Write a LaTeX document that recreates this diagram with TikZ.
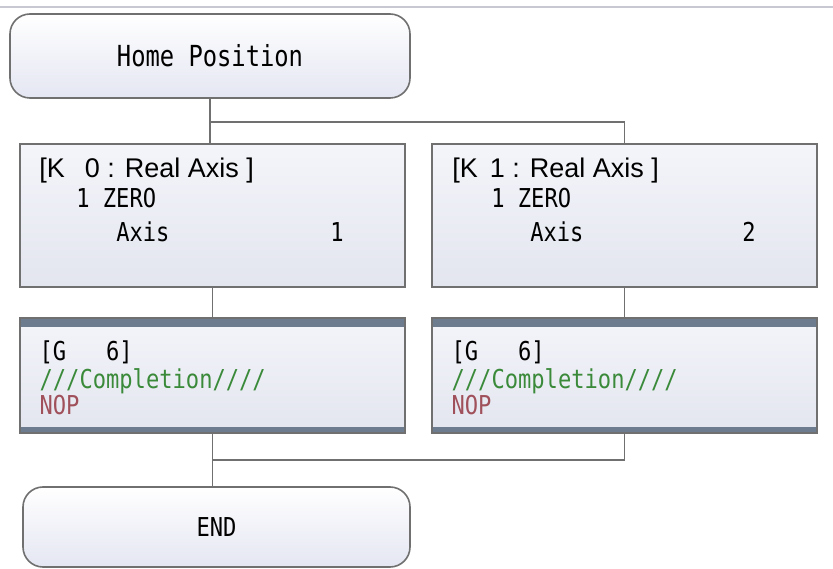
\documentclass[tikz,border=0pt]{standalone}
\usepackage{fontspec}
\setmainfont{Liberation Sans}
\newfontfamily\plcmono[FakeStretch=0.85]{DejaVu Sans Mono}
\newfontfamily\plchead[FakeStretch=0.82]{DejaVu Sans Mono}
\definecolor{edge}{HTML}{707070}
\definecolor{termbot}{HTML}{E4E6F2}
\definecolor{blocktop}{HTML}{F4F5FA}
\definecolor{blockbot}{HTML}{E3E5EF}
\definecolor{bar}{HTML}{6E7C90}
\definecolor{okgreen}{HTML}{3A8A3A}
\definecolor{nopred}{HTML}{A0505A}
\definecolor{topline}{HTML}{C8C8D2}
\tikzset{
  term/.style={draw=edge, line width=1.6pt, rounded corners=20pt, top color=white, bottom color=termbot, minimum width=400pt, minimum height=84pt, inner sep=0pt, font=\plchead\fontsize{29}{30}\selectfont},
  block/.style={draw=edge, line width=1.8pt, top color=blocktop, bottom color=blockbot, minimum width=385pt, minimum height=143pt, inner sep=0pt},
  gblock/.style={block, minimum height=115pt, line width=1.2pt,
    path picture={
      \fill[bar] (path picture bounding box.north west) rectangle ([yshift=-9pt]path picture bounding box.north east);
      \fill[bar] ([yshift=6pt]path picture bounding box.south west) rectangle (path picture bounding box.south east);
    }},
  rowhead/.style={anchor=base west, inner sep=0pt, font=\fontsize{27}{29}\selectfont},
  txt/.style={anchor=base west, inner sep=0pt, font=\plcmono\fontsize{26}{28}\selectfont},
  link/.style={draw=edge, line width=1.8pt}
}

\begin{document}
\begin{tikzpicture}[x=1pt, y=-1pt]
  \fill[white] (0,0) rectangle (833,569);
  \useasboundingbox (0,0) rectangle (833,569);
  \draw[line width=1.2pt, topline] (0,7) -- (833,7);

  \node[term] (home) at (210,56) {Home Position};
  \node[block] (k0) at (212.5,215.5) {};
  \node[block] (k1) at (624.5,215.5) {};
  \node[gblock] (g0) at (212.5,375.5) {};
  \node[gblock] (g1) at (624.5,375.5) {};
  \node[term, minimum width=387pt, minimum height=80pt, font=\plcmono\fontsize{26}{28}\selectfont] (end) at (216.5,527) {END};

  \node[rowhead] (k0a) at ([shift={(20,34)}]k0.north west) {[K\hspace{20pt}0 : Real Axis ]};
  \node[txt] (k0b) at ([shift={(57,64)}]k0.north west) {1 ZERO};
  \node[txt] (k0c) at ([shift={(97,98)}]k0.north west) {Axis};
  \node[txt] (k0d) at ([shift={(311,98)}]k0.north west) {1};

  \node[rowhead] (k1a) at ([shift={(21,34)}]k1.north west) {[K\hspace{12pt}1 : Real Axis ]};
  \node[txt] (k1b) at ([shift={(60,64)}]k1.north west) {1 ZERO};
  \node[txt] (k1c) at ([shift={(99,98)}]k1.north west) {Axis};
  \node[txt] (k1d) at ([shift={(311,98)}]k1.north west) {2};

  \node[txt] (g0a) at ([shift={(20,43)}]g0.north west) {[G\ \ \ 6]};
  \node[txt, text=okgreen] (g0b) at ([shift={(20,71)}]g0.north west) {///Completion////};
  \node[txt, text=nopred] (g0c) at ([shift={(20,97)}]g0.north west) {NOP};

  \node[txt] (g1a) at ([shift={(20,43)}]g1.north west) {[G\ \ \ 6]};
  \node[txt, text=okgreen] (g1b) at ([shift={(20,71)}]g1.north west) {///Completion////};
  \node[txt, text=nopred] (g1c) at ([shift={(20,97)}]g1.north west) {NOP};

  \draw[link] (home.south) -- (home.south |- k0.north);
  \draw[link] ([yshift=-23pt]home.south) -| (k1.north);
  \draw[link] (k0.south) -- (g0.north);
  \draw[link] (k1.south) -- (g1.north);
  \draw[link] (g0.south) -- (g0.south |- end.north);
  \draw[link] (g1.south) |- ([yshift=-26pt]g0.south);
\end{tikzpicture}
\end{document}
